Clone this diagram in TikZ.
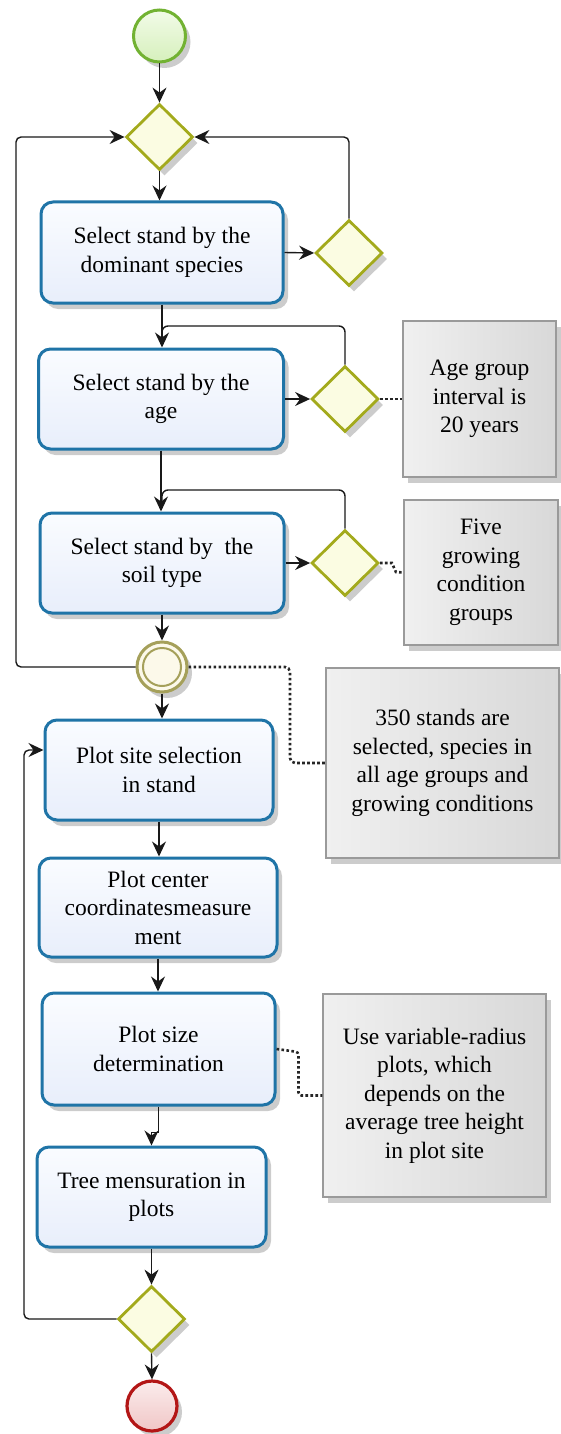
\documentclass[tikz,border=0pt]{standalone}
\usepackage{fontspec}
\setmainfont{Liberation Serif}
\usetikzlibrary{shapes.geometric, arrows.meta, shadows, calc}
\definecolor{boxb}{HTML}{1F74A7}
\definecolor{boxt}{HTML}{FAFCFF}
\definecolor{boxf}{HTML}{E8EEFB}
\definecolor{gateb}{HTML}{A3AA1C}
\definecolor{gatef}{HTML}{FBFCE2}
\definecolor{noteb}{HTML}{9A9A9A}
\definecolor{notel}{HTML}{F0F0F0}
\definecolor{noter}{HTML}{D8D8D8}
\definecolor{startb}{HTML}{72B232}
\definecolor{startt}{HTML}{F2FBE8}
\definecolor{startf}{HTML}{D6F0BC}
\definecolor{mergeb}{HTML}{A5A05A}
\definecolor{mergef}{HTML}{FCF9EA}
\definecolor{endb}{HTML}{B31616}
\definecolor{endt}{HTML}{FBECEC}
\definecolor{endf}{HTML}{F0C6C6}
\begin{document}
\begin{tikzpicture}[x=1pt,y=-1pt,
  font=\fontsize{23.5}{28.5}\selectfont,
  conn/.style={line width=1.4pt, draw=black!90},
  arr/.style={conn, -{Stealth[length=15pt,width=14pt,inset=5pt]}},
  dotc/.style={line width=2.6pt, dash pattern=on 2.6pt off 2.4pt, draw=black!85},
  shad/.style={drop shadow={shadow xshift=5pt, shadow yshift=-6pt, opacity=0.2, fill=black}},
  task/.style={rectangle, rounded corners=12pt, draw=boxb, line width=3pt, top color=boxt, bottom color=boxf, align=center, inner sep=0pt, shad},
  gate/.style={diamond, draw=gateb, line width=2.8pt, fill=gatef, minimum width=67pt, minimum height=66pt, inner sep=0pt, shad},
  note/.style={rectangle, draw=noteb, line width=1.5pt, left color=notel, right color=noter, align=center, inner sep=0pt, shad},
  startev/.style={circle, draw=startb, line width=3pt, top color=startt, bottom color=startf, minimum size=52pt, inner sep=0pt, shad},
  mergeev/.style={circle, draw=mergeb, line width=3pt, fill=mergef, minimum size=50pt, inner sep=0pt, shad,
     path picture={\draw[mergeb, line width=2pt] (path picture bounding box.center) circle (19pt);}},
  endev/.style={circle, draw=endb, line width=3.2pt, top color=endt, bottom color=endf, minimum size=50pt, inner sep=0pt, shad},
]
\useasboundingbox (0,0) rectangle (561,1434);
% nodes
\node[startev] (start) at (159.5,36) {};
\node[gate] (d1) at (159.5,137) {};
\node[task, minimum width=242pt, minimum height=101pt] (b1) at (162,252.5) {Select stand by the\\dominant species};
\node[gate] (d2) at (349,253) {};
\node[task, minimum width=245pt, minimum height=100pt] (b2) at (161,399) {Select stand by the\\age};
\node[gate] (d3) at (345,399) {};
\node[note, minimum width=153pt, minimum height=156pt] (n1) at (479.5,399) {Age group\\interval is\\20 years};
\node[task, minimum width=244pt, minimum height=100pt] (b3) at (162,563) {Select stand by\ \ the\\soil type};
\node[gate] (d4) at (345,563) {};
\node[note, minimum width=154pt, minimum height=145pt] (n2) at (481,572.5) {Five\\growing\\condition\\groups};
\node[mergeev] (dc) at (162,667) {};
\node[note, minimum width=233pt, minimum height=190pt] (n3) at (442.5,763) {350 stands are\\selected, species in\\all age groups and\\growing conditions};
\node[task, minimum width=228pt, minimum height=100pt] (b4) at (159,770) {Plot site selection\\in stand};
\node[task, minimum width=238pt, minimum height=99pt] (b5) at (158,907.5) {Plot center\\coordinatesmeasure\\ment};
\node[task, minimum width=233pt, minimum height=112pt] (b6) at (158.5,1049) {Plot size\\determination};
\node[note, minimum width=223pt, minimum height=203pt] (n4) at (434.5,1095.5) {Use variable-radius\\plots, which\\depends on the\\average tree height\\in plot site};
\node[task, minimum width=229pt, minimum height=100pt] (b7) at (151.5,1197) {Tree mensuration in\\plots};
\node[gate] (d5) at (151.5,1319) {};
\node[endev] (end) at (152,1406) {};
% helper coordinates
\coordinate (j1) at (162,326);
\coordinate (j2) at (162,490);
\coordinate (lp1) at (16,667);
\coordinate (k3) at (290,667);
\coordinate (lp2) at (24,1319);
\coordinate (b4in) at ($(b4.west)+(0,-20)$);
% connectors
\draw[arr] (start) -- (d1);
\draw[arr] (d1.south) -- (d1.south |- b1.north);
\draw[arr] (b1.east) -- (d2.west);
\draw[arr, rounded corners=5pt] (d2.north) |- (d1.east);
\draw[arr] (b1.south) -- (b1.south |- b2.north);
\draw[conn, rounded corners=6pt] (d3.north) |- (j1) -- ($(j1)+(0,12)$);
\draw[arr] (b2.east) -- (d3.west);
\draw[dotc] (d3.east) -- (n1.west);
\draw[arr] (b2.south) -- (b2.south |- b3.north);
\draw[conn, rounded corners=6pt] (d4.north) |- (j2) -- ($(j2)+(0,10)$);
\draw[arr] (b3.east) -- (d4.west);
\draw[dotc] (d4.east) -- ++(12,0) -- ++(4,9) -- (n2.west);
\draw[arr] (b3.south) -- (dc.north);
\draw[arr, rounded corners=5pt] (dc.west) -- (lp1) |- (d1.west);
\draw[dotc, rounded corners=5pt] (dc.east) -- (k3) |- (n3.west);
\draw[arr] (dc.south) -- (dc.south |- b4.north);
\draw[arr] (b4.south) -- (b4.south |- b5.north);
\draw[arr] (b5.south) -- (b5.south |- b6.north);
\draw[dotc, rounded corners=3pt] (b6.east) -- ++(22,3) |- (n4.west);
\draw[arr] (b6.south) -- ++(0,26) -| (b7.north);
\draw[arr] (b7.south) -- (d5.north);
\draw[arr, rounded corners=5pt] (d5.west) -- (lp2) |- (b4in);
\draw[arr] (d5.south) -- (end.north);
\end{tikzpicture}
\end{document}
